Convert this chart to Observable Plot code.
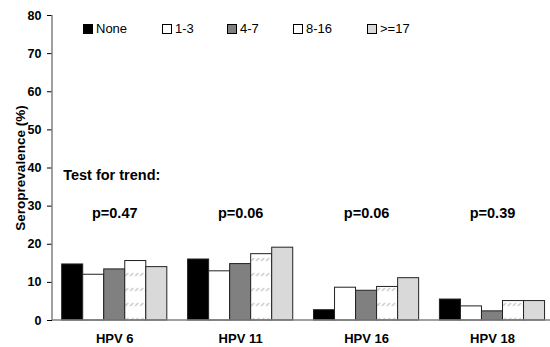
<!DOCTYPE html>
<html><head><meta charset="utf-8">
<script src="https://cdn.jsdelivr.net/npm/d3@7"></script>
<script src="https://cdn.jsdelivr.net/npm/@observablehq/plot@0.6"></script>
<style>
body{margin:0;background:#fff;font-family:"Liberation Sans",Arial,sans-serif;}
#wrap{position:relative;width:550px;height:347px;}
#legend{position:absolute;top:21px;left:83px;display:flex;font-size:13px;color:#000;}
.item{display:flex;align-items:center;}
.sw{width:8px;height:8px;border:1px solid #000;margin-right:3px;box-sizing:content-box;}
</style></head><body><div id="wrap"><div id="legend"></div></div>
<script>
const viruses = ["HPV 6","HPV 11","HPV 16","HPV 18"];
const groups = ["None","1-3","4-7","8-16",">=17"];
const hpv6 = [14.7,12.0,13.4,15.6,14.0];
const hpv11 = [16.0,12.9,14.8,17.4,19.1];
const hpv16 = [2.7,8.6,7.8,8.8,11.1];
const hpv18 = [5.5,3.7,2.4,5.1,5.1];
const pValues = ["p=0.47","p=0.06","p=0.06","p=0.39"];
const trendLabel = "Test for trend:";
const yTicks = [0,10,20,30,40,50,60,70,80];
const groupFills = ["#000000","#ffffff","#808080","url(#hatch)","#d9d9d9"];
const legendFills = ["#000000","#ffffff","#808080","#ffffff","#d9d9d9"];
const legendWidths = [79,65,66,74,60];
const trendY = 38.1;
const pValueY = 28.2;

const series = [hpv6,hpv11,hpv16,hpv18];
const rows = [];
series.forEach((vals,i)=>vals.forEach((v,j)=>rows.push({virus:viruses[i],group:groups[j],value:v,fill:groupFills[j]})));

const font = '"Liberation Sans",Arial,sans-serif';
const plot = Plot.plot({
  width:550,height:347,marginTop:15,marginBottom:27,marginLeft:52,marginRight:0,
  style:{fontFamily:font,fontSize:"12.5px",fontWeight:"bold",background:"#fff",color:"#000"},
  y:{domain:[0,80],ticks:yTicks,tickSize:5,tickPadding:6,label:"Seroprevalence (%)",labelAnchor:"center",labelOffset:37,labelArrow:"none"},
  fx:{domain:viruses,paddingInner:0.165,paddingOuter:0.06,align:0.64,round:false,label:null,axis:"bottom",tickSize:0,tickPadding:13},
  x:{domain:groups,padding:0,round:false,axis:null},
  color:{type:"identity"},
  marks:[
    Plot.barY(rows,{fx:"virus",x:"group",y:"value",fill:"fill",stroke:"#222",strokeWidth:1}),
    Plot.text([trendLabel],{fx:[viruses[0]],y:[trendY],text:d=>d,frameAnchor:"left",textAnchor:"start",dx:1,fontSize:14.5,fontWeight:"bold"}),
    Plot.text(pValues,{fx:viruses,y:pValues.map(()=>pValueY),text:d=>d,fontSize:14.5,fontWeight:"bold"})
  ]
});
const svgEl = plot.tagName.toLowerCase()==="svg" ? plot : plot.querySelector("svg");
const svg = d3.select(svgEl);
const defs = svg.insert("defs",":first-child");
const pat = defs.append("pattern").attr("id","hatch").attr("patternUnits","userSpaceOnUse").attr("width",5).attr("height",15);
pat.append("rect").attr("width",5).attr("height",15).attr("fill","#fff");
pat.append("path").attr("d","M0.5,6 L3.5,3").attr("stroke","#c4c4c4").attr("stroke-width",1.2);

const fxs = plot.scale("fx");
const facetLeft = fxs.apply(viruses[0]);
const ys = plot.scale("y");
const y0 = ys.apply(0), y80 = ys.apply(80);
const axisX = 52;
// move the y axis parts to the plot's left edge
svg.selectAll('g[aria-label^="y-axis"]').each(function(){
  const g = d3.select(this);
  const t = g.attr("transform") || "";
  g.attr("transform", `translate(${axisX - facetLeft},0) ${t}`);
});
svg.selectAll('g[aria-label="y-axis label"]').style("font-size","13.5px");
svg.selectAll('g[aria-label="fx-axis tick label"]').style("font-size","13px");
svg.append("line").attr("x1",axisX).attr("x2",550).attr("y1",y0).attr("y2",y0).attr("stroke","#808080").attr("stroke-width",1.5);
svg.append("line").attr("x1",axisX).attr("x2",axisX).attr("y1",y0).attr("y2",y80).attr("stroke","#808080").attr("stroke-width",1.5);

document.getElementById("wrap").prepend(plot);
const leg = d3.select("#legend");
groups.forEach((g,i)=>{
  const it = leg.append("div").attr("class","item").style("min-width",legendWidths[i]+"px");
  it.append("div").attr("class","sw").style("background",legendFills[i]);
  it.append("span").text(g);
});
</script></body></html>
